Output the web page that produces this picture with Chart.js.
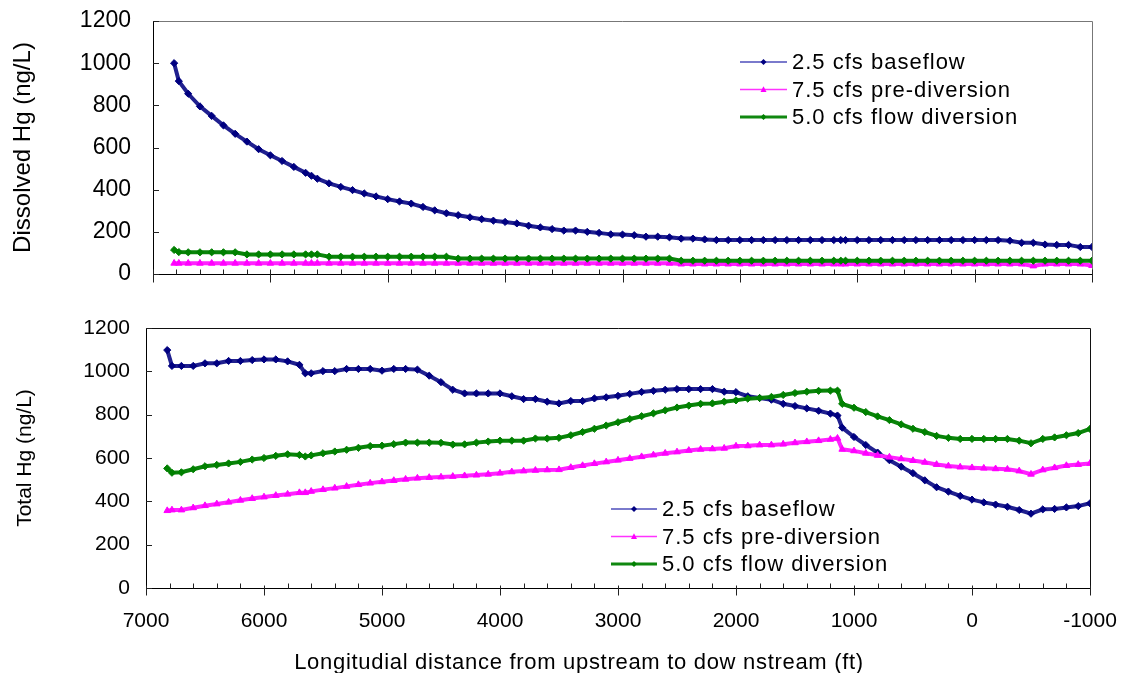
<!DOCTYPE html>
<html>
<head>
<meta charset="utf-8">
<title>Dissolved and total Hg along the reach</title>
<script src="https://cdn.jsdelivr.net/npm/chart.js@4.4.1/dist/chart.umd.min.js"></script>
<style>
  html,body{margin:0;padding:0;background:#fff;}
  .wrap{position:relative;width:1122px;height:673px;overflow:hidden;background:#fff;}
  #topChart{position:absolute;left:0;top:0;}
  #bottomChart{position:absolute;left:0;top:300px;}
</style>
</head>
<body>
<div class="wrap">
  <canvas id="topChart" width="1122" height="300"></canvas>
  <canvas id="bottomChart" width="1122" height="373"></canvas>
</div>
<script>
/* ===== Datos ===== */
const distFt = [
  6820, 6780, 6700, 6600, 6500, 6400, 6300, 6200, 6100, 6000,
  5900, 5800, 5700, 5650, 5600, 5500, 5400, 5300, 5200, 5100,
  5000, 4900, 4800, 4700, 4600, 4500, 4400, 4300, 4200, 4100,
  4000, 3900, 3800, 3700, 3600, 3500, 3400, 3300, 3200, 3100,
  3000, 2900, 2800, 2700, 2600, 2500, 2400, 2300, 2200, 2100,
  2000, 1900, 1800, 1700, 1600, 1500, 1400, 1300, 1200, 1140,
  1100, 1000, 900, 800, 700, 600, 500, 400, 300, 200,
  100, 0, -100, -200, -300, -400, -500, -600, -700, -800,
  -900, -1000
];
const seriesNames = ['2.5 cfs baseflow', '7.5 cfs pre-diversion', '5.0 cfs flow diversion'];

// Dissolved Hg (ng/L)
const dissolvedBase = [
  1000, 915, 855, 795, 750, 705, 665, 628, 592, 563,
  536, 508, 480, 466, 452, 430, 413, 398, 382, 368,
  355, 344, 334, 318, 302, 288, 279, 269, 260, 253,
  247, 240, 229, 221, 213, 206, 206, 200, 195, 188,
  187, 184, 177, 177, 174, 168, 168, 164, 161, 161,
  161, 161, 161, 161, 161, 161, 161, 161, 161, 161,
  161, 161, 161, 161, 161, 161, 161, 161, 161, 161,
  161, 161, 161, 161, 158, 148, 148, 140, 138, 138,
  128, 128
];
const dissolvedPre = [
  51, 51, 51, 51, 51, 51, 51, 51, 51, 51,
  51, 51, 51, 51, 51, 51, 51, 51, 51, 51,
  51, 51, 51, 51, 51, 51, 51, 51, 51, 51,
  51, 51, 51, 51, 51, 51, 51, 51, 51, 51,
  51, 51, 51, 51, 51, 47, 47, 47, 47, 47,
  47, 47, 47, 47, 47, 47, 47, 47, 47, 47,
  47, 47, 47, 47, 47, 47, 47, 47, 47, 47,
  47, 47, 47, 47, 47, 47, 38, 47, 47, 47,
  47, 40
];
const dissolvedDiv = [
  114, 104, 103, 103, 103, 103, 103, 93, 93, 93,
  93, 93, 93, 93, 93, 82, 82, 82, 82, 82,
  82, 82, 82, 82, 82, 82, 73, 73, 73, 73,
  73, 73, 73, 73, 73, 73, 73, 73, 73, 73,
  73, 73, 73, 73, 73, 63, 63, 63, 63, 63,
  63, 63, 63, 63, 63, 63, 63, 63, 63, 63,
  63, 63, 63, 63, 63, 63, 63, 63, 63, 63,
  63, 63, 63, 63, 63, 63, 63, 63, 63, 63,
  63, 63
];

// Total Hg (ng/L)
const totalBase = [
  1098, 1025, 1025, 1025, 1037, 1037, 1048, 1048, 1052, 1055,
  1055, 1046, 1030, 991, 991, 1001, 1001, 1011, 1011, 1011,
  1003, 1011, 1011, 1008, 980, 950, 915, 898, 898, 898,
  898, 885, 872, 872, 860, 852, 863, 863, 875, 880,
  887, 896, 905, 910, 915, 918, 918, 918, 918, 906,
  904, 885, 877, 869, 850, 840, 829, 818, 805, 796,
  740, 697, 660, 625, 590, 560, 530, 497, 465, 445,
  425, 408, 395, 385, 375, 360, 343, 363, 365, 372,
  378, 391
];
const totalPre = [
  357, 360, 360, 370, 380, 388, 396, 405, 413, 420,
  427, 433, 440, 440, 446, 454, 461, 469, 477, 484,
  490, 496, 502, 507, 510, 512, 515, 518, 521, 525,
  530, 536, 540, 543, 545, 546, 556, 565, 574, 582,
  590, 598, 606, 614, 622, 628, 635, 640, 642, 645,
  655, 656, 660, 660, 664, 670, 675, 680, 686, 691,
  640, 633, 622, 612, 604, 596, 588, 580, 570, 563,
  558, 555, 553, 550, 548, 540, 525, 545, 555, 565,
  570, 575
];
const totalDiv = [
  552, 532, 534, 548, 562, 568, 575, 582, 593, 600,
  610, 617, 614, 607, 612, 622, 630, 638, 647, 655,
  657, 664, 671, 671, 671, 670, 662, 663, 671, 676,
  680, 680, 680, 690, 690, 693, 705, 720, 735, 750,
  765, 780, 793, 806, 820, 833, 842, 850, 852, 860,
  866, 874, 877, 882, 891, 900, 906, 910, 911, 911,
  850, 832, 812, 792, 775, 755, 735, 720, 702, 693,
  688, 688, 688, 688, 688, 680, 668, 688, 695, 705,
  715, 734
];

const xTicks = [7000, 6000, 5000, 4000, 3000, 2000, 1000, 0, -1000];
const yTicks = [0, 200, 400, 600, 800, 1000, 1200];

/* ===== Estilos ===== */
const FONT = '"Liberation Sans", Arial, Helvetica, sans-serif';
const looks = [
  {fill:'#000080', line:'#20208f', legendLine:'#7a7acc', shape:'diamond',  r:3.6, w:4, lw:2},
  {fill:'#ff00ff', line:'#ff22ff', legendLine:'#ff33ff', shape:'triangle', r:3.8, w:4, lw:1.5},
  {fill:'#008000', line:'#0a840a', legendLine:'#108810', shape:'diamond',  r:3.6, w:4, lw:3},
];
const pts = arr => arr.map((v,i)=>({x: distFt[i], y: v}));

function buildDatasets(values){
  return values.map((v,i)=>({
    label: seriesNames[i],
    data: pts(v),
    borderColor: looks[i].line,
    borderWidth: looks[i].w,
    backgroundColor: looks[i].fill,
    pointStyle: looks[i].shape === 'diamond' ? 'rectRot' : 'triangle',
    pointRadius: looks[i].r,
    pointBackgroundColor: looks[i].fill,
    pointBorderColor: looks[i].fill,
    pointBorderWidth: 1,
    tension: 0,
    order: 2 - i
  }));
}

/* ===== Marcas de eje estilo Excel + marco ===== */
function marker(ctx, shape, x, y, r){
  ctx.beginPath();
  if (shape === 'triangle'){
    ctx.moveTo(x, y - r*1.1); ctx.lineTo(x + r, y + r*0.8); ctx.lineTo(x - r, y + r*0.8);
  } else {
    ctx.moveTo(x, y - r); ctx.lineTo(x + r, y); ctx.lineTo(x, y + r); ctx.lineTo(x - r, y);
  }
  ctx.closePath(); ctx.fill();
}

const excelAxes = {
  id:'excelAxes',
  afterDraw(chart, args, o){
    const {ctx, chartArea:a, scales:{x, y}} = chart;
    ctx.save();
    ctx.lineWidth = 1;
    // marco superior y derecho
    ctx.strokeStyle = o.boxColor;
    ctx.beginPath();
    ctx.moveTo(a.left, Math.round(a.top)+0.5);
    ctx.lineTo(Math.round(a.right)+0.5, Math.round(a.top)+0.5);
    ctx.lineTo(Math.round(a.right)+0.5, a.bottom);
    ctx.stroke();
    // ticks
    ctx.strokeStyle = '#222';
    ctx.beginPath();
    const b = Math.round(a.bottom)+0.5;
    for (let v = -1000; v <= 7000; v += o.minorStep){
      const px = Math.round(x.getPixelForValue(v))+0.5;
      if (xTicks.includes(v)){ ctx.moveTo(px, b - o.majorIn); ctx.lineTo(px, b + o.majorOut); }
      else { ctx.moveTo(px, b - o.minorIn); ctx.lineTo(px, b); }
    }
    yTicks.forEach(v=>{
      const py = Math.round(y.getPixelForValue(v))+0.5;
      ctx.moveTo(a.left, py); ctx.lineTo(a.left + o.yIn, py);
    });
    ctx.stroke();
    // titulo del eje x (con espaciado como el original)
    if (o.xTitle){
      ctx.font = `${o.xTitle.size}px ${FONT}`;
      ctx.fillStyle = '#000';
      ctx.textAlign = 'center';
      ctx.textBaseline = 'middle';
      if ('letterSpacing' in ctx) ctx.letterSpacing = o.xTitle.spacing + 'px';
      ctx.fillText(o.xTitle.text, o.xTitle.x, o.xTitle.y);
    }
    ctx.restore();
  }
};

const inlineLegend = {
  id:'inlineLegend',
  afterDraw(chart, args, o){
    const {ctx} = chart;
    ctx.save();
    ctx.font = `${o.size}px ${FONT}`;
    ctx.textBaseline = 'middle';
    ctx.fillStyle = '#000';
    if ('letterSpacing' in ctx) ctx.letterSpacing = o.spacing + 'px';
    chart.data.datasets.forEach((ds,i)=>{
      const yy = o.y + i*o.rowH, lk = looks[i];
      ctx.strokeStyle = lk.legendLine; ctx.lineWidth = lk.lw;
      ctx.beginPath(); ctx.moveTo(o.x, yy); ctx.lineTo(o.x + o.len, yy); ctx.stroke();
      ctx.fillStyle = lk.fill;
      marker(ctx, lk.shape, o.x + o.len/2, yy, 3);
      ctx.fillStyle = '#000';
      ctx.fillText(ds.label, o.x + o.len + 5, yy + 1);
    });
    ctx.restore();
  }
};

/* ===== Configuracion de cada panel ===== */
function makeChart(id, cfg){
  return new Chart(document.getElementById(id), {
    type:'line',
    data:{ datasets: buildDatasets(cfg.values) },
    options:{
      responsive:false, animation:false, devicePixelRatio:1, events:[],
      layout:{ padding: cfg.padding },
      plugins:{
        legend:{display:false}, tooltip:{enabled:false},
        excelAxes: cfg.axes,
        inlineLegend: cfg.legend
      },
      scales:{
        x:{
          type:'linear', min:-1000, max:7000, reverse:true,
          afterBuildTicks: s => { s.ticks = xTicks.map(v=>({value:v})); },
          afterFit: s => { s.height = cfg.xHeight; s.paddingLeft = 0; s.paddingRight = 0; },
          grid:{display:false, drawTicks:false},
          border:{display:true, color:'#000', width:1},
          ticks:{
            display: cfg.xLabels, color:'#000', padding:21, maxRotation:0, autoSkip:false,
            font:{family:FONT, size:21}, callback: v => String(v)
          },
          title:{display:false}
        },
        y:{
          min:0, max:1200,
          afterBuildTicks: s => { s.ticks = yTicks.map(v=>({value:v})); },
          afterFit: s => { s.width = cfg.yWidth; s.paddingTop = 0; s.paddingBottom = 0; },
          grid:{display:false, drawTicks:false},
          border:{display:true, color:'#000', width:1},
          ticks:{
            color:'#000', padding:cfg.yPad,
            font:{family:FONT, size:cfg.yFont}, callback: v => String(v)
          },
          title:{display:true, text:cfg.yTitle, color:'#000',
                 font:{family:FONT, size:cfg.yTitleFont}, padding:{top:cfg.yTitlePad, bottom:0}}
        }
      }
    },
    plugins:[excelAxes, inlineLegend]
  });
}

makeChart('topChart', {
  values:[dissolvedBase, dissolvedPre, dissolvedDiv],
  padding:{left:0, top:21, right:30, bottom:0},
  xHeight:26, yWidth:153, yPad:22, yFont:23, xLabels:false,
  yTitle:'Dissolved Hg (ng/L)', yTitleFont:24, yTitlePad:9,
  axes:{boxColor:'#777', minorStep:200, majorIn:5, majorOut:8, minorIn:5, yIn:6},
  legend:{x:740, y:62, rowH:27.5, len:47, size:22, spacing:1}
});

makeChart('bottomChart', {
  values:[totalBase, totalPre, totalDiv],
  padding:{left:0, top:28, right:32, bottom:0},
  xHeight:85, yWidth:146, yPad:16, yFont:21, xLabels:true,
  yTitle:'Total Hg (ng/L)', yTitleFont:21, yTitlePad:13,
  axes:{boxColor:'#111', minorStep:200, majorIn:3, majorOut:7, minorIn:5, yIn:6,
        xTitle:{text:'Longitudial distance from upstream to dow nstream (ft)', x:579, y:363, size:22, spacing:0.7}},
  legend:{x:611, y:209, rowH:27.5, len:46, size:22, spacing:1}
});
</script>
</body>
</html>
